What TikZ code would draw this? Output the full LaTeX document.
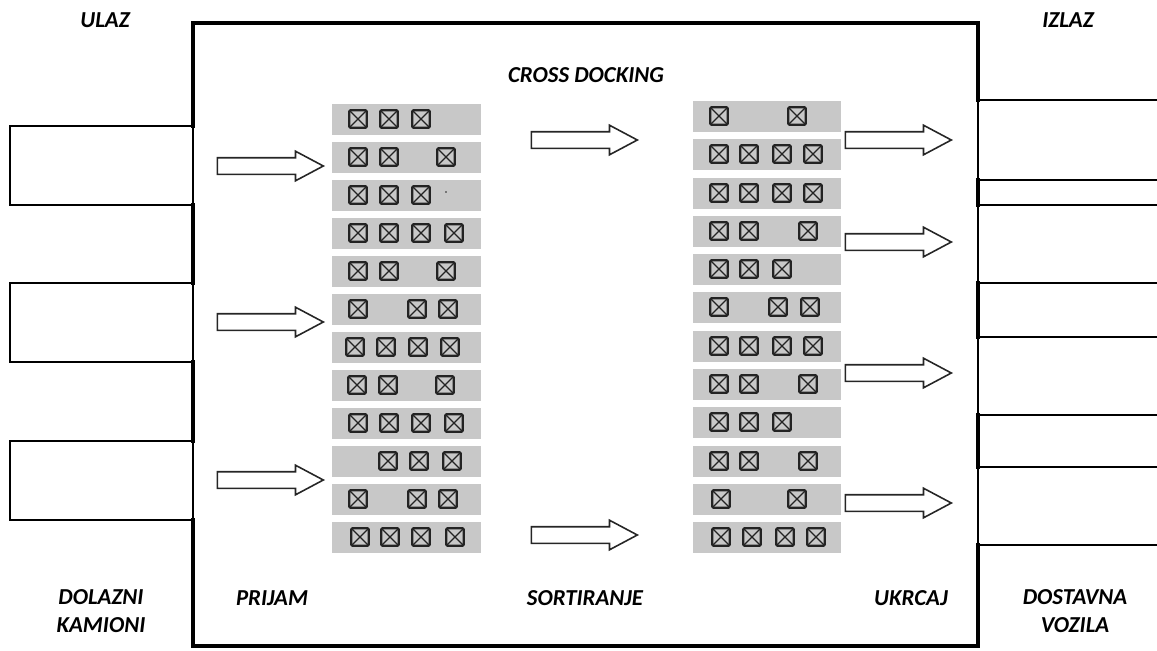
\documentclass[tikz,border=0pt]{standalone}
\usepackage{fontspec}
\setmainfont{Carlito}
\usepackage{tikz}
\usetikzlibrary{shapes,arrows,positioning}
\definecolor{rowgray}{RGB}{200,200,200}
\definecolor{cratedark}{RGB}{35,35,35}

\begin{document}
\begin{tikzpicture}[
    x=0.02cm, y=-0.02cm,
    % Warehouse walls and docks
    wall/.style={line width=2.3pt, line cap=rect},
    dock/.style={line width=0.9pt},
    % Storage lanes and crates
    lane/.style={rectangle, fill=rowgray, minimum width=2.98cm, minimum height=0.62cm, inner sep=0pt},
    crate/.style={rectangle, draw=cratedark, line width=1.4pt, rounded corners=0.8pt, fill=rowgray,
        minimum size=0.35cm, inner sep=0pt,
        path picture={\draw[line width=0.7pt, cratedark]
            (path picture bounding box.south west) -- (path picture bounding box.north east)
            (path picture bounding box.north west) -- (path picture bounding box.south east);}},
    % Block arrows
    flow/.style={single arrow, draw=black!85, fill=white, line width=0.9pt, minimum height=2.12cm,
        inner xsep=0pt, inner ysep=0.15cm, text height=0pt, text depth=0pt,
        single arrow head extend=0.13cm, single arrow tip angle=56, anchor=tip},
    zone/.style={font=\fontsize{13}{15.5}\selectfont\bfseries\itshape, align=center}
]
    \useasboundingbox (0,0) rectangle (1157,650);

    % Building outline (thick wall, open at the docks)
    \draw[wall] (193,126) -- (193,23) -- (978,23) -- (978,100);
    \draw[wall] (978,180) -- (978,205);
    \draw[wall] (978,283) -- (978,337);
    \draw[wall] (978,415) -- (978,467);
    \draw[wall] (978,545) -- (978,646) -- (193,646) -- (193,520);
    \draw[wall] (193,205) -- (193,283);
    \draw[wall] (193,362) -- (193,441);

    % Incoming trucks
    \draw[dock] (10,126) rectangle (193,205);
    \draw[dock] (10,283) rectangle (193,362);
    \draw[dock] (10,441) rectangle (193,520);

    % Delivery vehicles
    \draw[dock] (1157,100) -- (978,100) -- (978,180) -- (1157,180);
    \draw[dock] (1157,205) -- (978,205) -- (978,283) -- (1157,283);
    \draw[dock] (1157,337) -- (978,337) -- (978,415) -- (1157,415);
    \draw[dock] (1157,467) -- (978,467) -- (978,545) -- (1157,545);

    % Receiving lanes
    \foreach \n/\y/\xs in {1/119/{358,389,421}, 2/157/{358,389,446}, 3/195/{358,389,421},
        4/233/{358,389,421,454}, 5/271/{358,389,446}, 6/309/{358,417,448},
        7/347/{355,386,418,450}, 8/385/{357,388,445}, 9/423/{358,389,421,454},
        10/461/{388,419,452}, 11/499/{358,417,448}, 12/537/{360,390,421,455}} {
        \node[lane] (l\n) at (406.5,\y) {};
        \foreach \x in \xs \node[crate] (l\n-\x) at (\x,\y) {};
    }
    \fill[cratedark] (446,192) circle (0.5pt);

    % Loading lanes
    \foreach \n/\y/\xs in {1/116/{719,797}, 2/154/{719,749,782,813}, 3/193/{719,749,782,813},
        4/231/{719,749,808}, 5/269/{719,749,782}, 6/307/{719,778,810},
        7/346/{719,749,782,813}, 8/384/{719,749,808}, 9/422/{719,749,782},
        10/461/{719,749,808}, 11/499/{721,797}, 12/537/{721,752,785,816}} {
        \node[lane] (r\n) at (767,\y) {};
        \foreach \x in \xs \node[crate] (r\n-\x) at (\x,\y) {};
    }

    % Flow arrows
    \node[flow] (in1) at (325,166) {};
    \node[flow] (in2) at (325,322) {};
    \node[flow] (in3) at (325,480) {};
    \node[flow] (mid1) at (639,140) {};
    \node[flow] (mid2) at (639,535) {};
    \node[flow] (out1) at (953,140) {};
    \node[flow] (out2) at (953,242) {};
    \node[flow] (out3) at (953,373) {};
    \node[flow] (out4) at (953,503) {};

    % Labels
    \node[zone] (ulaz) at (105,20) {ULAZ};
    \node[zone] (izlaz) at (1068,20) {IZLAZ};
    \node[zone] (title) at (586,75) {CROSS DOCKING};
    \node[zone] (dolazni) at (101,611) {DOLAZNI\\KAMIONI};
    \node[zone] (prijam) at (272,598) {PRIJAM};
    \node[zone] (sortiranje) at (585,598) {SORTIRANJE};
    \node[zone] (ukrcaj) at (911,598) {UKRCAJ};
    \node[zone] (dostavna) at (1075,611) {DOSTAVNA\\VOZILA};
\end{tikzpicture}
\end{document}
